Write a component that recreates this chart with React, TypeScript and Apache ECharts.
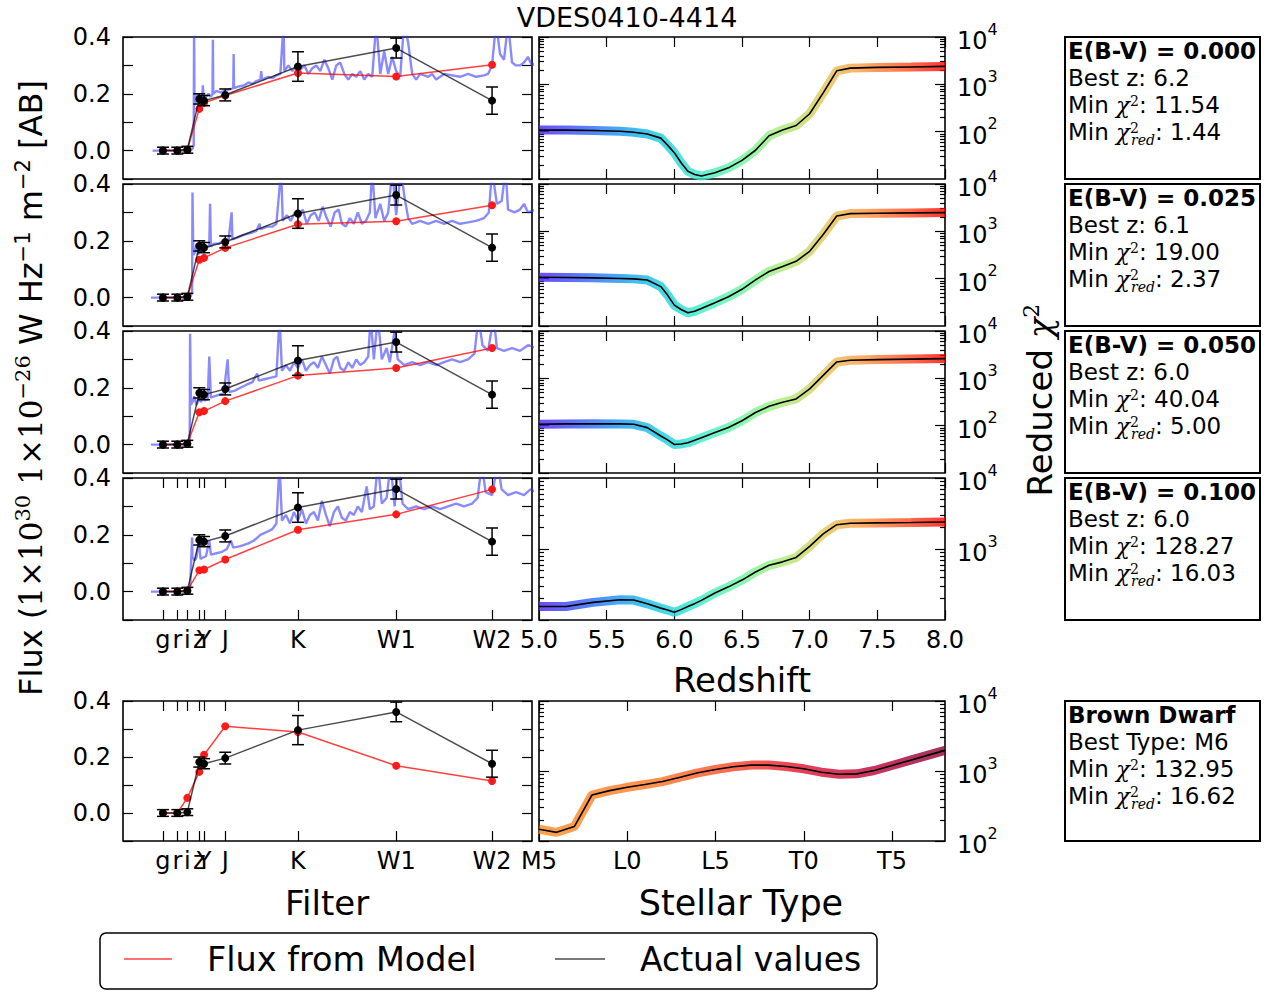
import React, { useEffect, useRef } from "react";
import * as echarts from "echarts";

// ---------------- data ----------------
const FILTER_NAMES = ["g", "r", "i", "z", "Y", "J", "K", "W1", "W2"];
const FILTER_WAVE = [0.48, 0.66, 0.785, 0.935, 0.995, 1.26, 2.17, 3.4, 4.6];
const FLUX_TICK_LABELS = ["0.0", "0.2", "0.4"];

const ACTUAL_FLUX = [0.0, 0.0, 0.003, 0.182, 0.176, 0.196, 0.296, 0.361, 0.176];
const ACTUAL_ERR = [0.012, 0.012, 0.012, 0.018, 0.018, 0.021, 0.052, 0.035, 0.048];

const MODEL_EBV_000 = [0.0, 0.0, 0.003, 0.147, 0.168, 0.194, 0.273, 0.261, 0.302];
const MODEL_EBV_025 = [0.0, 0.0, 0.003, 0.133, 0.14, 0.175, 0.258, 0.269, 0.325];
const MODEL_EBV_050 = [0.0, 0.0, 0.003, 0.114, 0.118, 0.153, 0.243, 0.27, 0.34];
const MODEL_EBV_100 = [0.0, 0.0, 0.004, 0.075, 0.078, 0.113, 0.218, 0.272, 0.36];
const MODEL_BROWN_DWARF = [0.0, 0.0, 0.054, 0.147, 0.208, 0.31, 0.289, 0.169, 0.114];

const SPECTRUM_EBV_000 = [
  [0.35, 0], [0.5, 0], [0.7, 0], [0.83, 0.0], [0.855, 0.01], [0.865, 0.02], [0.87, 0.45], [0.875, 0.16],
  [0.89, 0.17], [0.91, 0.2], [0.93, 0.17], [0.95, 0.19], [0.97, 0.18], [0.98, 0.23], [0.99, 0.18], [1.02, 0.19],
  [1.05, 0.2], [1.08, 0.19], [1.1, 0.2], [1.105, 0.39], [1.11, 0.2], [1.15, 0.21], [1.2, 0.205], [1.25, 0.21],
  [1.3, 0.215], [1.36, 0.22], [1.365, 0.34], [1.37, 0.22], [1.42, 0.225], [1.5, 0.23], [1.55, 0.24], [1.6, 0.235],
  [1.65, 0.245], [1.7, 0.25], [1.71, 0.28], [1.72, 0.25], [1.8, 0.26], [1.85, 0.255], [1.9, 0.265], [1.95, 0.27],
  [1.99, 0.45], [2.0, 0.28], [2.05, 0.3], [2.1, 0.28], [2.15, 0.3], [2.2, 0.285], [2.25, 0.3], [2.3, 0.27],
  [2.35, 0.29], [2.4, 0.3], [2.45, 0.28], [2.5, 0.32], [2.55, 0.29], [2.6, 0.25], [2.65, 0.3], [2.7, 0.31],
  [2.75, 0.27], [2.8, 0.25], [2.85, 0.27], [2.9, 0.26], [2.95, 0.28], [3.0, 0.25], [3.05, 0.27], [3.1, 0.26],
  [3.15, 0.45], [3.2, 0.27], [3.25, 0.35], [3.3, 0.27], [3.35, 0.33], [3.4, 0.28], [3.45, 0.26], [3.5, 0.45],
  [3.55, 0.38], [3.6, 0.27], [3.65, 0.25], [3.7, 0.27], [3.8, 0.26], [3.85, 0.27], [3.9, 0.25], [3.95, 0.26],
  [4.0, 0.27], [4.1, 0.265], [4.2, 0.26], [4.3, 0.27], [4.4, 0.26], [4.5, 0.265], [4.55, 0.27], [4.6, 0.3],
  [4.65, 0.45], [4.7, 0.34], [4.75, 0.32], [4.8, 0.45], [4.85, 0.31], [4.9, 0.3], [4.95, 0.3], [5.0, 0.31],
  [5.05, 0.33], [5.1, 0.3], [5.15, 0.31],
];
const SPECTRUM_EBV_025 = [
  [0.33, 0], [0.5, 0], [0.7, 0], [0.81, 0.0], [0.835, 0.01], [0.845, 0.02], [0.85, 0.37], [0.86, 0.15],
  [0.88, 0.16], [0.9, 0.19], [0.92, 0.15], [0.94, 0.17], [0.96, 0.16], [0.98, 0.2], [1.0, 0.17], [1.03, 0.18],
  [1.06, 0.18], [1.07, 0.33], [1.08, 0.18], [1.12, 0.19], [1.18, 0.19], [1.24, 0.2], [1.3, 0.2], [1.34, 0.3],
  [1.35, 0.205], [1.4, 0.21], [1.48, 0.22], [1.55, 0.225], [1.6, 0.23], [1.65, 0.235], [1.69, 0.26], [1.7, 0.24],
  [1.78, 0.25], [1.85, 0.25], [1.9, 0.26], [1.96, 0.45], [1.98, 0.27], [2.03, 0.29], [2.08, 0.27], [2.13, 0.3],
  [2.18, 0.28], [2.23, 0.31], [2.28, 0.26], [2.33, 0.29], [2.38, 0.3], [2.43, 0.27], [2.48, 0.32], [2.53, 0.28],
  [2.58, 0.25], [2.63, 0.3], [2.68, 0.31], [2.72, 0.26], [2.77, 0.25], [2.82, 0.28], [2.87, 0.26], [2.92, 0.3],
  [2.97, 0.26], [3.02, 0.27], [3.07, 0.3], [3.1, 0.45], [3.14, 0.28], [3.2, 0.33], [3.25, 0.27], [3.3, 0.3],
  [3.35, 0.45], [3.4, 0.29], [3.46, 0.45], [3.5, 0.36], [3.55, 0.28], [3.6, 0.26], [3.7, 0.27], [3.8, 0.26],
  [3.9, 0.27], [4.0, 0.26], [4.1, 0.27], [4.2, 0.26], [4.3, 0.265], [4.4, 0.27], [4.5, 0.28], [4.56, 0.3],
  [4.6, 0.45], [4.66, 0.33], [4.72, 0.34], [4.77, 0.45], [4.8, 0.31], [4.88, 0.3], [4.95, 0.31], [5.0, 0.33],
  [5.05, 0.3], [5.15, 0.31],
];
const SPECTRUM_EBV_050 = [
  [0.33, 0], [0.5, 0], [0.7, 0], [0.8, 0.0], [0.815, 0.01], [0.82, 0.39], [0.83, 0.14], [0.85, 0.15],
  [0.87, 0.17], [0.9, 0.14], [0.93, 0.16], [0.96, 0.15], [0.98, 0.18], [1.0, 0.155], [1.04, 0.16], [1.06, 0.31],
  [1.08, 0.165], [1.12, 0.17], [1.18, 0.175], [1.24, 0.18], [1.29, 0.3], [1.31, 0.185], [1.38, 0.19], [1.45, 0.2],
  [1.52, 0.21], [1.6, 0.22], [1.66, 0.25], [1.68, 0.225], [1.75, 0.23], [1.82, 0.235], [1.9, 0.24], [1.94, 0.45],
  [1.97, 0.26], [2.02, 0.28], [2.07, 0.26], [2.12, 0.29], [2.17, 0.27], [2.22, 0.3], [2.27, 0.26], [2.32, 0.28],
  [2.37, 0.29], [2.42, 0.27], [2.47, 0.31], [2.52, 0.28], [2.57, 0.25], [2.62, 0.3], [2.66, 0.31], [2.7, 0.27],
  [2.75, 0.26], [2.8, 0.29], [2.85, 0.27], [2.9, 0.3], [2.95, 0.28], [3.0, 0.29], [3.05, 0.31], [3.08, 0.45],
  [3.12, 0.3], [3.17, 0.45], [3.22, 0.3], [3.28, 0.34], [3.32, 0.29], [3.38, 0.4], [3.42, 0.3], [3.5, 0.28],
  [3.6, 0.29], [3.7, 0.28], [3.8, 0.29], [3.9, 0.28], [4.0, 0.29], [4.1, 0.3], [4.2, 0.29], [4.3, 0.3],
  [4.38, 0.32], [4.43, 0.45], [4.48, 0.35], [4.55, 0.33], [4.62, 0.45], [4.66, 0.34], [4.75, 0.33], [4.85, 0.34],
  [4.95, 0.33], [5.05, 0.35], [5.15, 0.34],
];
const SPECTRUM_EBV_100 = [
  [0.33, 0], [0.5, 0], [0.7, 0], [0.8, 0.0], [0.82, 0.01], [0.845, 0.19], [0.85, 0.12], [0.88, 0.11],
  [0.9, 0.12], [0.93, 0.18], [0.95, 0.115], [0.98, 0.12], [1.02, 0.125], [1.06, 0.18], [1.08, 0.13], [1.15, 0.135],
  [1.22, 0.14], [1.28, 0.15], [1.33, 0.18], [1.36, 0.155], [1.45, 0.16], [1.55, 0.17], [1.62, 0.18], [1.7, 0.2],
  [1.78, 0.21], [1.85, 0.22], [1.9, 0.24], [1.94, 0.45], [1.97, 0.25], [2.02, 0.27], [2.07, 0.24], [2.12, 0.28],
  [2.17, 0.25], [2.22, 0.29], [2.27, 0.24], [2.32, 0.27], [2.37, 0.28], [2.42, 0.25], [2.47, 0.32], [2.52, 0.27],
  [2.57, 0.23], [2.62, 0.28], [2.67, 0.3], [2.72, 0.26], [2.77, 0.25], [2.82, 0.28], [2.87, 0.27], [2.92, 0.3],
  [2.97, 0.28], [3.03, 0.37], [3.07, 0.29], [3.12, 0.3], [3.17, 0.45], [3.22, 0.31], [3.28, 0.33], [3.33, 0.45],
  [3.38, 0.3], [3.43, 0.45], [3.48, 0.31], [3.55, 0.29], [3.65, 0.3], [3.75, 0.29], [3.85, 0.3], [3.95, 0.29],
  [4.05, 0.3], [4.15, 0.31], [4.25, 0.3], [4.35, 0.31], [4.42, 0.33], [4.47, 0.45], [4.52, 0.35], [4.6, 0.34],
  [4.67, 0.45], [4.72, 0.36], [4.8, 0.34], [4.9, 0.35], [5.0, 0.34], [5.08, 0.36], [5.15, 0.35],
];

const REDSHIFT = [5.0, 5.2, 5.4, 5.6, 5.7, 5.8, 5.9, 5.95, 6.0, 6.05, 6.1, 6.15, 6.2, 6.3, 6.4, 6.5, 6.6, 6.7, 6.8, 6.9, 7.0, 7.1, 7.2, 7.3, 7.5, 7.75, 8.0];
const CHI2_EBV_000 = [108, 108, 106, 102, 97, 89, 73, 52, 36, 22, 14.6, 12.5, 11.54, 13.5, 17.2, 24.7, 40.5, 82, 109, 135, 239, 662, 1930, 2200, 2280, 2330, 2390];
const CHI2_EBV_025 = [107, 106, 104, 101, 99, 94, 68, 45, 27.6, 22.3, 19.0, 20.5, 23.5, 31, 41.6, 59.6, 94, 142, 181, 232, 379, 859, 2110, 2370, 2410, 2450, 2490];
const CHI2_EBV_050 = [107, 109, 110, 109, 107, 91, 60.6, 50, 40.04, 41, 43.7, 49, 55.8, 71.4, 91.3, 127, 190, 256, 311, 367, 600, 1155, 2220, 2410, 2490, 2550, 2610];
const CHI2_EBV_100 = [155, 155, 177, 193, 191, 169, 147, 138, 128.27, 140, 155, 170, 189, 240, 293, 365, 475, 590, 659, 760, 1090, 1637, 2200, 2300, 2330, 2360, 2400];

const STELLAR_TYPES = ["M5", "M6", "M7", "M8", "M9", "L0", "L1", "L2", "L3", "L4", "L5", "L6", "L7", "L8", "L9", "T0", "T1", "T2", "T3", "T4", "T5", "T6", "T7", "T8"];
const STELLAR_TICKS = [0, 5, 10, 15, 20];
const CHI2_BROWN_DWARF = [147, 132.95, 161, 454, 524, 585, 640, 706, 815, 942, 1052, 1148, 1214, 1214, 1161, 1075, 962, 900, 910, 1016, 1200, 1416, 1671, 1972];

const EBV_VALUES = ["0.000", "0.025", "0.050", "0.100"];
const BEST_Z = ["6.2", "6.1", "6.0", "6.0"];
const MIN_CHI2 = ["11.54", "19.00", "40.04", "128.27"];
const MIN_CHI2_RED = ["1.44", "2.37", "5.00", "16.03"];
const BD_BEST_TYPE = "M6";
const BD_MIN_CHI2 = "132.95";
const BD_MIN_CHI2_RED = "16.62";

// ---------------- styles / layout ----------------
const FONT = "DejaVu Sans";
const SERIF = "DejaVu Serif";
const W = 1274;
const H = 992;
const LEFT_X = 123;
const LEFT_W = 409;
const MID_X = 539;
const MID_W = 406;
const ROW_TOPS = [37, 184, 331, 478];
const ROW_H = 142;
const BOT_TOP = 701;
const BOT_H = 140;
const BOX_X = 1065;
const BOX_W = 195;

const RAINBOW: [number, string][] = [
  [0, "rgb(75,30,245)"], [0.1, "rgb(50,85,250)"], [0.2, "rgb(20,150,240)"], [0.3, "rgb(20,205,225)"],
  [0.4, "rgb(60,235,200)"], [0.5, "rgb(110,245,160)"], [0.6, "rgb(170,235,120)"], [0.7, "rgb(225,200,90)"],
  [0.8, "rgb(255,150,60)"], [0.9, "rgb(255,80,35)"], [1, "rgb(255,0,0)"],
];
const BD_COLORS: [number, string][] = [
  [0, "rgb(255,140,30)"], [0.3, "rgb(255,115,35)"], [0.5, "rgb(250,60,35)"], [0.65, "rgb(225,15,45)"],
  [0.85, "rgb(180,0,55)"], [1, "rgb(140,0,50)"],
];

function buildOption() {
  const grid: any[] = [];
  const xAxis: any[] = [];
  const yAxis: any[] = [];
  const series: any[] = [];
  const tick = (len: number, extra: any = {}) => ({
    show: true, inside: true, length: len, lineStyle: { color: "#000", width: 1.2 }, ...extra,
  });
  const hiddenLine = { show: false, onZero: false };
  const labelBase = { color: "#000", fontFamily: FONT, fontSize: 24 };
  const filterLabel = (v: number) => {
    const i = FILTER_WAVE.findIndex((w) => Math.abs(w - v) < 1e-6);
    return i >= 0 ? FILTER_NAMES[i] : "";
  };
  const fluxLabel = (v: number) => {
    const k = Math.round(v * 10);
    return k >= 0 && k % 2 === 0 ? FLUX_TICK_LABELS[k / 2] || "" : "";
  };
  const logLabel = (v: number) => `{b|10}{s|${Math.round(Math.log10(v))}}`;
  const LOG_RICH = {
    b: { fontSize: 24, fontFamily: FONT, color: "#000", lineHeight: 32, verticalAlign: "bottom" },
    s: { fontSize: 16, fontFamily: FONT, color: "#000", verticalAlign: "top" },
  };

  function addFluxPanel(top: number, h: number, showX: boolean, spectrum: number[][] | null, model: number[]) {
    const gi = grid.length;
    grid.push({ left: LEFT_X, top, width: LEFT_W, height: h, show: true, borderColor: "#000", borderWidth: 1.6, backgroundColor: "transparent" });
    const xi = xAxis.length;
    const xBase = { gridIndex: gi, type: "value", min: -0.02, max: 5.1, axisLine: hiddenLine, splitLine: { show: false } };
    const xt = showX ? tick(10, { customValues: FILTER_WAVE }) : { show: false };
    xAxis.push({
      ...xBase, position: "bottom", axisTick: xt,
      axisLabel: showX ? { show: true, customValues: FILTER_WAVE, formatter: filterLabel, margin: 8, ...labelBase } : { show: false },
    });
    xAxis.push({ ...xBase, position: "top", axisTick: xt, axisLabel: { show: false } });
    const yi = yAxis.length;
    const yBase = { gridIndex: gi, type: "value", min: -0.1, max: 0.4, interval: 0.1, axisLine: hiddenLine, splitLine: { show: false } };
    yAxis.push({ ...yBase, position: "left", axisTick: tick(10), axisLabel: { show: true, formatter: fluxLabel, margin: 12, showMinLabel: true, showMaxLabel: true, ...labelBase } });
    yAxis.push({ ...yBase, position: "right", axisTick: tick(10), axisLabel: { show: false } });

    if (spectrum) {
      series.push({
        type: "line", xAxisIndex: xi, yAxisIndex: yi, data: spectrum, symbol: "none", clip: true, silent: true,
        lineStyle: { color: "rgba(60,60,255,0.6)", width: 2.4 }, z: 1,
      });
    }
    series.push({
      type: "line", xAxisIndex: xi, yAxisIndex: yi, data: FILTER_WAVE.map((w, i) => [w, model[i]]),
      symbol: "circle", symbolSize: 8, showSymbol: true, silent: true,
      itemStyle: { color: "#ff1a1a" }, lineStyle: { color: "rgba(255,0,0,0.75)", width: 1.5 }, z: 2,
    });
    series.push({
      type: "custom", xAxisIndex: xi, yAxisIndex: yi, silent: true, z: 3,
      data: FILTER_WAVE.map((w, i) => [w, ACTUAL_FLUX[i], ACTUAL_ERR[i]]),
      encode: { x: 0, y: 1 },
      renderItem: (params: any, api: any) => {
        const x = api.value(0), y = api.value(1), e = api.value(2);
        const t = api.coord([x, y + e]);
        const b = api.coord([x, y - e]);
        const hw = 6;
        const st = { stroke: "#000", lineWidth: 1.5 };
        return {
          type: "group",
          children: [
            { type: "line", shape: { x1: t[0], y1: t[1], x2: b[0], y2: b[1] }, style: st },
            { type: "line", shape: { x1: t[0] - hw, y1: t[1], x2: t[0] + hw, y2: t[1] }, style: st },
            { type: "line", shape: { x1: b[0] - hw, y1: b[1], x2: b[0] + hw, y2: b[1] }, style: st },
          ],
        };
      },
    });
    series.push({
      type: "line", xAxisIndex: xi, yAxisIndex: yi, data: FILTER_WAVE.map((w, i) => [w, ACTUAL_FLUX[i]]),
      symbol: "circle", symbolSize: 8, showSymbol: true, silent: true,
      itemStyle: { color: "#000" }, lineStyle: { color: "rgba(0,0,0,0.7)", width: 1.5 }, z: 4,
    });
  }

  function addChi2Panel(top: number, h: number, kind: "z" | "type", yMin: number, showXLabels: boolean, showMinY: boolean, xs: number[], ys: number[], stops: [number, string][]) {
    const gi = grid.length;
    grid.push({ left: MID_X, top, width: MID_W, height: h, show: true, borderColor: "#000", borderWidth: 1.6, backgroundColor: "transparent" });
    const xi = xAxis.length;
    const xBase: any = kind === "z"
      ? { gridIndex: gi, type: "value", min: 5, max: 8, interval: 0.5, axisLine: hiddenLine, splitLine: { show: false } }
      : { gridIndex: gi, type: "value", min: 0, max: STELLAR_TYPES.length - 1, axisLine: hiddenLine, splitLine: { show: false } };
    const xt = kind === "z" ? tick(10) : tick(10, { customValues: STELLAR_TICKS });
    const lab = kind === "z"
      ? { formatter: (v: number) => v.toFixed(1) }
      : { customValues: STELLAR_TICKS, formatter: (v: number) => STELLAR_TYPES[Math.round(v)] };
    xAxis.push({
      ...xBase, position: "bottom", axisTick: xt,
      axisLabel: showXLabels ? { show: true, margin: 8, showMinLabel: true, showMaxLabel: true, ...labelBase, ...lab } : { show: false },
    });
    xAxis.push({ ...xBase, position: "top", axisTick: xt, axisLabel: { show: false } });

    const minors: number[] = [];
    for (let d = yMin; d < 10000; d *= 10) for (let k = 2; k <= 9; k++) minors.push(k * d);
    const yBase = { gridIndex: gi, type: "log", logBase: 10, min: yMin, max: 10000, axisLine: hiddenLine, splitLine: { show: false } };
    const yi = yAxis.length;
    yAxis.push({
      ...yBase, position: "right", axisTick: tick(10),
      axisLabel: { show: true, margin: 12, showMinLabel: showMinY, showMaxLabel: true, formatter: logLabel, rich: LOG_RICH, color: "#000", fontFamily: FONT, fontSize: 24 },
    });
    yAxis.push({ ...yBase, position: "left", axisTick: tick(10), axisLabel: { show: false } });
    yAxis.push({ ...yBase, position: "right", axisTick: tick(5, { customValues: minors }), axisLabel: { show: false } });
    yAxis.push({ ...yBase, position: "left", axisTick: tick(5, { customValues: minors }), axisLabel: { show: false } });

    const data = xs.map((x, i) => [x, ys[i]]);
    series.push({
      type: "line", xAxisIndex: xi, yAxisIndex: yi, data, symbol: "none", silent: true, z: 2,
      lineStyle: {
        width: 9, opacity: 0.8,
        color: new echarts.graphic.LinearGradient(0, 0, 1, 0, stops.map(([o, c]) => ({ offset: o, color: c }))),
      },
    });
    series.push({
      type: "line", xAxisIndex: xi, yAxisIndex: yi, data, symbol: "none", silent: true, z: 3,
      lineStyle: { width: 1.6, color: "#000" },
    });
  }

  const spectra = [SPECTRUM_EBV_000, SPECTRUM_EBV_025, SPECTRUM_EBV_050, SPECTRUM_EBV_100];
  const models = [MODEL_EBV_000, MODEL_EBV_025, MODEL_EBV_050, MODEL_EBV_100];
  const chis = [CHI2_EBV_000, CHI2_EBV_025, CHI2_EBV_050, CHI2_EBV_100];
  const yMins = [10, 10, 10, 100];
  for (let r = 0; r < 4; r++) {
    addFluxPanel(ROW_TOPS[r], ROW_H, r === 3, spectra[r], models[r]);
    addChi2Panel(ROW_TOPS[r], ROW_H, "z", yMins[r], r === 3, false, REDSHIFT, chis[r], RAINBOW);
  }
  addFluxPanel(BOT_TOP, BOT_H, true, null, MODEL_BROWN_DWARF);
  const stellarIdx = STELLAR_TYPES.map((_, i) => i);
  addChi2Panel(BOT_TOP, BOT_H, "type", 100, true, true, stellarIdx, CHI2_BROWN_DWARF, BD_COLORS);

  // ---------- graphic ----------
  const graphic: any[] = [];
  const txt = (x: number, y: number, text: string, extra: any = {}, rich?: any, rotation = 0) => ({
    type: "text", x, y, rotation, silent: true,
    style: { text, fontFamily: FONT, fontSize: 23, fill: "#000", align: "left", verticalAlign: "middle", rich, ...extra },
  });
  const chiRich = {
    chi: { fontFamily: SERIF, fontStyle: "italic", fontSize: 23, color: "#333", lineHeight: 30 },
    sup: { fontFamily: SERIF, fontSize: 14, color: "#333", verticalAlign: "top", padding: [4, 0, 0, 0] },
    supn: { fontFamily: SERIF, fontSize: 14, color: "#333", verticalAlign: "top", padding: [4, 0, 0, 0], width: 1 },
    sub: { fontFamily: SERIF, fontStyle: "italic", fontSize: 14, color: "#333", verticalAlign: "bottom" },
  };
  const addBox = (top: number, h: number, title: string, line2: string, chi2: string, chi2red: string) => {
    graphic.push({ type: "rect", silent: true, shape: { x: BOX_X, y: top, width: BOX_W, height: h }, style: { fill: "#fff", stroke: "#000", lineWidth: 2 } });
    graphic.push(txt(BOX_X + 3, top + 14, title, { fontWeight: "bold" }));
    graphic.push(txt(BOX_X + 3, top + 41, line2));
    graphic.push(txt(BOX_X + 3, top + 68, `Min {chi|χ}{sup|2}: ${chi2}`, { lineHeight: 30 }, chiRich));
    graphic.push(txt(BOX_X + 3, top + 95, `Min {chi|χ}{supn|2}{sub|red}: ${chi2red}`, { lineHeight: 30 }, chiRich));
  };
  for (let r = 0; r < 4; r++) {
    addBox(ROW_TOPS[r], ROW_H, `E(B-V) = ${EBV_VALUES[r]}`, `Best z: ${BEST_Z[r]}`, MIN_CHI2[r], MIN_CHI2_RED[r]);
  }
  addBox(BOT_TOP, BOT_H, "Brown Dwarf", `Best Type: ${BD_BEST_TYPE}`, BD_MIN_CHI2, BD_MIN_CHI2_RED);

  graphic.push(txt(627, 17, "VDES0410-4414", { fontSize: 27, align: "center" }));
  graphic.push(txt(742, 680, "Redshift", { fontSize: 34, align: "center" }));
  graphic.push(txt(327, 903, "Filter", { fontSize: 34, align: "center" }));
  graphic.push(txt(741, 903, "Stellar Type", { fontSize: 35, align: "center" }));

  const yRich = {
    m: { fontFamily: SERIF, fontSize: 31, color: "#000" },
    ms: { fontFamily: SERIF, fontSize: 21, color: "#000", verticalAlign: "top" },
    s: { fontFamily: FONT, fontSize: 21, color: "#000", verticalAlign: "top" },
  };
  graphic.push(txt(31, 388, "Flux ({m|1×10}{ms|30} {m|1×10}{ms|−26} W Hz{s|−1} m{s|−2} [AB]", { fontSize: 32, align: "center", lineHeight: 38 }, yRich, Math.PI / 2));
  const rRich = {
    c: { fontFamily: SERIF, fontStyle: "italic", fontSize: 34, color: "#000" },
    s: { fontFamily: SERIF, fontSize: 22, color: "#000", verticalAlign: "top" },
  };
  graphic.push(txt(1040, 400, "Reduced {c|χ}{s|2}", { fontSize: 34, align: "center", lineHeight: 40 }, rRich, Math.PI / 2));

  // legend
  graphic.push({ type: "rect", silent: true, shape: { x: 100, y: 933, width: 777, height: 56, r: 6 }, style: { fill: "#fff", stroke: "#000", lineWidth: 1.5 } });
  graphic.push({ type: "line", silent: true, shape: { x1: 124, y1: 959, x2: 172, y2: 959 }, style: { stroke: "rgba(255,0,0,0.75)", lineWidth: 1.5 } });
  graphic.push(txt(207, 959, "Flux from Model", { fontSize: 33.5 }));
  graphic.push({ type: "line", silent: true, shape: { x1: 555, y1: 959, x2: 605, y2: 959 }, style: { stroke: "rgba(0,0,0,0.7)", lineWidth: 1.5 } });
  graphic.push(txt(640, 959, "Actual values", { fontSize: 33 }));

  return {
    animation: false,
    backgroundColor: "#fff",
    textStyle: { fontFamily: FONT },
    grid, xAxis, yAxis, series, graphic,
  };
}

export default function App() {
  const ref = useRef<HTMLDivElement>(null);
  useEffect(() => {
    if (!ref.current) return;
    const chart = echarts.init(ref.current, undefined, { renderer: "svg", width: W, height: H });
    chart.setOption(buildOption() as any);
    return () => chart.dispose();
  }, []);
  return <div ref={ref} style={{ position: "absolute", left: 0, top: 0, width: W, height: H }} />;
}
